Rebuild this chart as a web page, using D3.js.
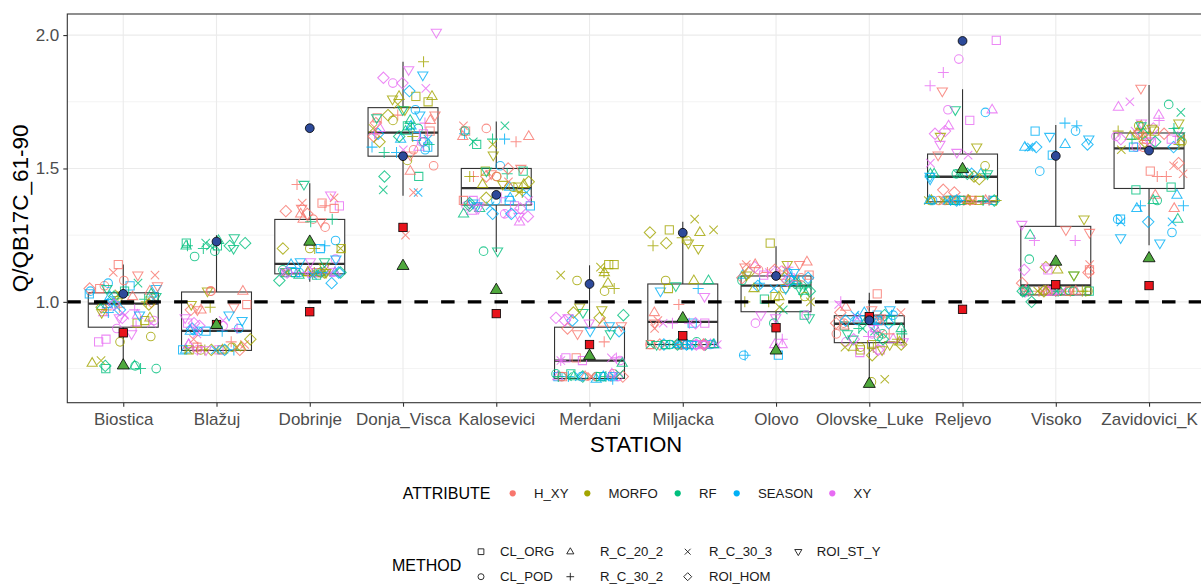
<!DOCTYPE html>
<html>
<head>
<meta charset="utf-8">
<script src="https://cdn.jsdelivr.net/npm/d3@7"></script>
<style>
  body { margin: 0; background: #ffffff; }
  svg { display: block; font-family: "Liberation Sans", Arial, sans-serif; }
</style>
</head>
<body>
<svg id="chart" width="1201" height="585"></svg>
<script>
// ---- data -------------------------------------------------------------
const stations = ["Biostica", "Blažuj", "Dobrinje", "Donja_Visca", "Kalosevici", "Merdani",
  "Miljacka", "Olovo", "Olovske_Luke", "Reljevo", "Visoko", "Zavidovici_K"];
const attributes = ["H_XY", "MORFO", "RF", "SEASON", "XY"];
const methods = ["CL_ORG", "CL_POD", "R_C_20_2", "R_C_30_2", "R_C_30_3", "ROI_HOM", "ROI_ST_Y"];
const yTicks = [1.0, 1.5, 2.0];

// Q/QB17C_61-90 ratios: one row per station, two runs of the 7 methods (method = index % 7)
const ratioHXY = [
  [1.14, 1.06, 1.04, 0.98, 1.10, 1.05, 1.10,  1.05, 1.08, 1.02, 0.97, 1.11, 1.00, 1.06],
  [0.83, 1.04, 1.04, 0.85, 0.84, 0.97, 0.98,  0.99, 1.04, 0.97, 0.83, 0.86, 0.82, 0.97],
  [1.37, 1.31, 1.33, 1.44, 1.37, 1.33, 1.30,  1.35, 1.28, 1.31, 1.36, 1.39, 1.34, 1.35],
  [1.69, 1.51, 1.49, 1.70, 1.25, 1.62, 1.55,  1.64, 1.57, 1.68, 1.63, 1.41, 1.67, 1.70],
  [1.64, 1.65, 1.62, 1.47, 1.66, 1.47, 1.50,  1.38, 1.47, 1.62, 1.60, 1.45, 1.50, 1.48],
  [0.79, 0.73, 0.92, 0.72, 0.72, 0.72, 0.91,  0.72, 0.72, 0.72, 0.85, 0.72, 0.90, 0.88],
  [0.84, 0.84, 0.96, 0.99, 0.93, 0.84, 0.92,  0.84, 0.84, 0.84, 0.84, 0.90, 0.84, 0.84],
  [1.10, 1.12, 1.15, 1.11, 1.14, 1.09, 1.13,  1.10, 1.09, 1.14, 1.08, 1.12, 1.12, 1.14],
  [1.03, 0.92, 0.98, 0.94, 0.88, 0.96, 0.97,  0.93, 0.88, 0.91, 0.88, 0.96, 0.92, 0.94],
  [1.38, 1.38, 1.38, 1.38, 1.38, 1.42, 1.79,  1.38, 1.38, 1.38, 1.38, 1.38, 1.41, 1.55],
  [1.12, 1.04, 1.04, 1.04, 1.14, 1.11, 1.27,  1.04, 1.04, 1.04, 1.04, 1.04, 1.07, 1.26],
  [1.49, 1.58, 1.35, 1.47, 1.51, 1.52, 1.80,  1.61, 1.62, 1.40, 1.47, 1.48, 1.63, 1.63]
];
const ratioMORFO = [
  [0.93, 0.87, 0.94, 1.02, 0.78, 0.98, 1.00,  0.92, 0.85, 0.77, 1.00, 1.03, 0.99, 0.96],
  [0.82, 0.83, 0.82, 0.98, 0.83, 0.82, 1.04,  0.82, 0.82, 0.83, 0.82, 0.82, 0.86, 0.99],
  [1.20, 1.20, 1.11, 1.20, 1.20, 1.11, 1.13,  1.11, 1.11, 1.11, 1.11, 1.11, 1.20, 1.11],
  [1.77, 1.53, 1.77, 1.90, 1.74, 1.60, 1.72,  1.75, 1.68, 1.77, 1.62, 1.65, 1.70, 1.76],
  [1.43, 1.47, 1.44, 1.41, 1.59, 1.45, 1.55,  1.49, 1.43, 1.44, 1.47, 1.41, 1.39, 1.44],
  [1.14, 1.04, 1.07, 1.11, 1.10, 0.96, 0.97,  1.14, 1.08, 1.11, 1.05, 1.13, 0.94, 0.98],
  [1.27, 1.23, 1.26, 1.24, 1.31, 1.22, 1.20,  1.05, 1.08, 1.08, 1.21, 1.27, 1.26, 1.22],
  [1.22, 1.05, 1.02, 1.00, 1.00, 1.11, 1.14,  1.02, 1.02, 1.05, 1.00, 0.98, 1.09, 1.10],
  [0.82, 0.70, 0.83, 0.83, 0.71, 0.80, 0.84,  0.84, 0.83, 0.85, 0.86, 0.83, 0.84, 0.82],
  [1.38, 1.51, 1.38, 1.38, 1.38, 1.46, 1.62,  1.38, 1.38, 1.38, 1.38, 1.38, 1.47, 1.58],
  [1.04, 1.04, 1.12, 1.04, 1.04, 1.13, 1.31,  1.04, 1.04, 1.04, 1.04, 1.04, 1.04, 1.10],
  [1.62, 1.60, 1.66, 1.64, 1.57, 1.60, 1.65,  1.64, 1.66, 1.62, 1.59, 1.61, 1.63, 1.67]
];
const ratioRF = [
  [0.75, 0.76, 1.03, 0.75, 1.07, 0.76, 1.02,  1.04, 0.75, 0.76, 1.01, 0.99, 1.02, 1.05],
  [1.21, 1.17, 1.23, 1.21, 1.22, 1.21, 1.24,  1.22, 1.19, 1.21, 1.20, 1.21, 1.22, 1.20],
  [1.11, 1.11, 1.11, 1.31, 1.11, 1.08, 1.44,  1.10, 1.12, 1.10, 1.30, 1.11, 1.11, 1.15],
  [1.47, 1.65, 1.68, 1.56, 1.42, 1.62, 1.72,  1.66, 1.60, 1.64, 1.59, 1.66, 1.47, 1.69],
  [1.59, 1.19, 1.35, 1.61, 1.66, 1.36, 1.19,  1.49, 1.64, 1.33, 1.48, 1.60, 1.37, 1.49],
  [0.73, 0.72, 0.77, 0.72, 0.72, 0.72, 0.96,  0.72, 0.73, 0.72, 0.72, 0.73, 0.95, 0.88],
  [0.84, 0.85, 1.08, 0.84, 0.84, 0.84, 0.84,  0.84, 0.84, 0.84, 0.84, 0.84, 0.84, 1.06],
  [0.95, 0.92, 1.08, 1.06, 0.97, 1.04, 1.04,  1.01, 1.08, 1.04, 1.07, 1.06, 1.07, 0.94],
  [0.91, 0.88, 0.90, 0.88, 0.90, 0.95, 0.86,  0.93, 0.87, 0.93, 0.90, 0.89, 0.86, 0.88],
  [1.38, 1.48, 1.48, 1.48, 1.48, 1.38, 1.72,  1.38, 1.38, 1.48, 1.38, 1.48, 1.48, 1.48],
  [1.04, 1.16, 1.25, 1.04, 1.04, 1.00, 1.10,  1.04, 1.04, 1.04, 1.04, 1.04, 1.04, 1.04],
  [1.42, 1.74, 1.31, 1.65, 1.71, 1.63, 1.64,  1.43, 1.38, 1.38, 1.61, 1.62, 1.60, 1.66]
];
const ratioSEASON = [
  [1.06, 1.04, 0.99, 1.00, 1.01, 0.97, 1.05,  1.03, 1.07, 1.02, 0.96, 0.98, 1.00, 0.95],
  [0.89, 0.89, 0.82, 0.82, 0.89, 0.90, 0.95,  0.82, 0.90, 0.89, 0.89, 0.82, 0.82, 0.93],
  [1.11, 1.23, 1.11, 1.21, 1.11, 1.07, 1.16,  1.20, 1.11, 1.14, 1.11, 1.10, 1.11, 1.15],
  [1.58, 1.72, 1.61, 1.56, 1.41, 1.63, 1.85,  1.62, 1.57, 1.66, 1.58, 1.61, 1.79, 1.70],
  [1.38, 1.51, 1.43, 1.63, 1.36, 1.33, 1.37,  1.36, 1.38, 1.39, 1.61, 1.41, 1.33, 1.36],
  [0.72, 0.72, 0.71, 0.72, 0.72, 0.93, 0.91,  0.72, 0.72, 0.72, 0.71, 0.72, 0.89, 0.89],
  [0.92, 0.84, 0.84, 1.05, 0.84, 0.84, 1.04,  0.84, 0.84, 0.84, 0.84, 0.84, 0.84, 0.84],
  [0.80, 0.80, 1.10, 0.80, 1.08, 1.06, 1.05,  1.08, 1.11, 1.09, 1.07, 1.05, 1.09, 1.11],
  [0.95, 0.93, 0.96, 0.95, 0.93, 0.92, 0.94,  0.93, 0.95, 0.94, 0.92, 0.95, 0.93, 0.97],
  [1.38, 1.71, 1.48, 1.38, 1.38, 1.48, 1.46,  1.38, 1.38, 1.38, 1.38, 1.38, 1.38, 1.47],
  [1.64, 1.49, 1.58, 1.66, 1.58, 1.59, 1.62,  1.55, 1.64, 1.59, 1.67, 1.58, 1.58, 1.61],
  [1.31, 1.26, 1.40, 1.36, 1.30, 1.58, 1.22,  1.58, 1.31, 1.35, 1.36, 1.30, 1.30, 1.24]
];
const ratioXY = [
  [0.86, 0.93, 0.96, 0.91, 0.95, 0.94, 0.88,  0.85, 0.90, 0.95, 0.97, 0.92, 0.99, 0.94],
  [0.82, 0.91, 0.84, 0.82, 0.88, 0.92, 0.94,  0.92, 0.82, 0.84, 0.90, 0.93, 0.91, 0.82],
  [1.36, 1.16, 1.11, 1.11, 1.11, 1.11, 1.40,  1.11, 1.11, 1.12, 1.11, 1.11, 1.11, 1.15],
  [1.62, 1.82, 1.58, 1.67, 1.80, 1.84, 2.01,  1.63, 1.60, 1.65, 1.63, 1.57, 1.82, 1.87],
  [1.38, 1.36, 1.34, 1.37, 1.33, 1.35, 1.32,  1.36, 1.33, 1.30, 1.39, 1.38, 1.32, 1.35],
  [0.79, 0.78, 0.72, 0.78, 0.79, 0.94, 0.94,  0.78, 0.72, 0.73, 0.79, 0.78, 0.93, 0.92],
  [0.92, 0.84, 0.84, 0.92, 0.84, 0.92, 1.02,  0.84, 0.84, 0.84, 0.92, 0.92, 0.84, 0.84],
  [1.09, 0.92, 0.84, 0.86, 1.12, 1.13, 0.94,  1.10, 0.95, 0.84, 1.13, 1.11, 1.08, 0.95],
  [0.81, 0.85, 0.90, 1.00, 0.99, 0.82, 0.85,  0.82, 0.88, 0.86, 0.87, 0.94, 0.86, 0.90],
  [1.98, 1.91, 1.72, 1.86, 1.52, 1.64, 1.59,  1.68, 1.72, 1.66, 1.81, 1.55, 1.63, 1.56],
  [1.12, 1.04, 1.04, 1.23, 1.04, 1.04, 1.29,  1.04, 1.04, 1.04, 1.23, 1.04, 1.12, 1.13],
  [1.60, 1.58, 1.73, 1.68, 1.75, 1.65, 1.67,  1.61, 1.62, 1.70, 1.62, 1.64, 1.61, 1.60]
];

// box summaries per station
const boxQ1     = [0.905, 0.818, 1.105, 1.546, 1.363, 0.713, 0.840, 0.963, 0.847, 1.375, 1.026, 1.425];
const boxMedian = [0.993, 0.891, 1.142, 1.634, 1.426, 0.780, 0.925, 1.061, 0.918, 1.469, 1.062, 1.575];
const boxQ3     = [1.034, 1.037, 1.309, 1.728, 1.500, 0.905, 1.067, 1.097, 0.948, 1.554, 1.283, 1.633];
const whiskerLo = [0.760, 0.815, 1.075, 1.398, 1.187, 0.713, 0.840, 0.809, 0.697, 1.375, 1.020, 1.212];
const whiskerHi = [1.140, 1.250, 1.445, 1.900, 1.676, 1.137, 1.300, 1.208, 1.034, 1.797, 1.663, 1.813];

// reference ratios per station
const refRed   = [0.884, 0.915, 0.963, 1.279, 0.956, 0.840, 0.873, 0.903, 0.944, 0.972, 1.064, 1.061];
const refGreen = [0.763, 0.915, 1.227, 1.136, 1.046, 0.799, 0.940, 0.819, 0.694, 1.499, 1.152, 1.165];
const refBlue  = [1.030, 1.226, 1.651, 1.546, 1.401, 1.067, 1.259, 1.097, 0.931, 1.978, 1.547, 1.567];

// ---- setup ------------------------------------------------------------
const attrColors = ["#F8766D", "#A3A500", "#00BF7D", "#00B0F6", "#E76BF3"];
const attrTables = [ratioHXY, ratioMORFO, ratioRF, ratioSEASON, ratioXY];

const svg = d3.select("#chart");
const panel = { left: 67.3, right: 1205, top: 14, bottom: 402.7 };

const x = d3.scalePoint().domain(stations).range([panel.left, panel.right]).padding(0.6);
const y = d3.scaleLinear().domain([0.622, 2.079]).range([panel.bottom, panel.top]);
const step = x.step();

svg.append("defs").append("clipPath").attr("id", "panel-clip")
  .append("rect").attr("x", panel.left).attr("y", panel.top)
  .attr("width", panel.right - panel.left).attr("height", panel.bottom - panel.top);

// open-shape paths used for methods
function shapePath(i) {
  switch (i) {
    case 0: return "M-4.1,-4.1H4.1V4.1H-4.1Z";                               // square
    case 1: return "M4.3,0A4.3,4.3 0 1,1 -4.3,0A4.3,4.3 0 1,1 4.3,0Z";      // circle
    case 2: return "M0,-5.6L5.1,3.1L-5.1,3.1Z";                              // triangle
    case 3: return "M-5.5,0H5.5M0,-5.5V5.5";                                 // plus
    case 4: return "M-4.2,-4.2L4.2,4.2M-4.2,4.2L4.2,-4.2";                   // cross
    case 5: return "M0,-5.7L5.7,0L0,5.7L-5.7,0Z";                            // diamond
    case 6: return "M0,5.6L5.1,-3.1L-5.1,-3.1Z";                             // triangle down
  }
}

const g = svg.append("g");

// grid
const gridG = g.append("g");
[0.75, 1.25, 1.75].forEach(v => {
  gridG.append("line").attr("x1", panel.left).attr("x2", panel.right)
    .attr("y1", y(v)).attr("y2", y(v)).attr("stroke", "#ebebeb").attr("stroke-width", 0.6);
});
yTicks.forEach(v => {
  gridG.append("line").attr("x1", panel.left).attr("x2", panel.right)
    .attr("y1", y(v)).attr("y2", y(v)).attr("stroke", "#ebebeb").attr("stroke-width", 1.1);
});
stations.forEach(s => {
  gridG.append("line").attr("x1", x(s)).attr("x2", x(s))
    .attr("y1", panel.top).attr("y2", panel.bottom).attr("stroke", "#ebebeb").attr("stroke-width", 1.1);
});

// boxplots
const boxW = step * 0.75;
const boxG = g.append("g").attr("stroke", "#333333").attr("fill", "none");
stations.forEach((s, i) => {
  const cx = x(s);
  boxG.append("line").attr("x1", cx).attr("x2", cx)
    .attr("y1", y(boxQ3[i])).attr("y2", y(whiskerHi[i])).attr("stroke-width", 1.1);
  boxG.append("line").attr("x1", cx).attr("x2", cx)
    .attr("y1", y(boxQ1[i])).attr("y2", y(whiskerLo[i])).attr("stroke-width", 1.1);
  boxG.append("rect").attr("x", cx - boxW / 2).attr("width", boxW)
    .attr("y", y(boxQ3[i])).attr("height", y(boxQ1[i]) - y(boxQ3[i]))
    .attr("fill", "#ffffff").attr("stroke-width", 1.1);
  boxG.append("line").attr("x1", cx - boxW / 2).attr("x2", cx + boxW / 2)
    .attr("y1", y(boxMedian[i])).attr("y2", y(boxMedian[i])).attr("stroke-width", 2.3);
});

// jittered points
const rand = d3.randomUniform.source(d3.randomLcg(0.4217))(-0.37, 0.37);
const points = [];
stations.forEach((s, si) => {
  const n = attrTables[0][si].length;
  for (let k = 0; k < n; k++) {
    attributes.forEach((a, ai) => {
      points.push({ station: s, attr: ai, method: k % methods.length,
        value: attrTables[ai][si][k], dx: rand() * step });
    });
  }
});
g.append("g").attr("clip-path", "url(#panel-clip)")
  .selectAll("path").data(points).join("path")
  .attr("transform", d => `translate(${x(d.station) + d.dx},${y(d.value)})`)
  .attr("d", d => shapePath(d.method))
  .attr("fill", "none")
  .attr("stroke", d => attrColors[d.attr])
  .attr("stroke-opacity", 0.8)
  .attr("stroke-width", 1.05);

// reference line at 1.0
g.append("line").attr("x1", panel.left).attr("x2", panel.right)
  .attr("y1", y(1)).attr("y2", y(1))
  .attr("stroke", "#000").attr("stroke-width", 3.4).attr("stroke-dasharray", "13.5,13.2");

// reference markers
const refG = g.append("g").attr("stroke", "#000").attr("stroke-width", 0.8);
stations.forEach((s, i) => {
  const cx = x(s);
  refG.append("rect").attr("x", cx - 4.2).attr("y", y(refRed[i]) - 4.2)
    .attr("width", 8.4).attr("height", 8.4).attr("fill", "#E8141C");
  refG.append("path").attr("transform", `translate(${cx},${y(refGreen[i])})`)
    .attr("d", "M0,-6.4L6,3.9L-6,3.9Z").attr("fill", "#4FA83D");
  refG.append("circle").attr("cx", cx).attr("cy", y(refBlue[i])).attr("r", 4.4)
    .attr("fill", "#2D4A9A");
});

// panel border
g.append("rect").attr("x", panel.left).attr("y", panel.top)
  .attr("width", panel.right - panel.left).attr("height", panel.bottom - panel.top)
  .attr("fill", "none").attr("stroke", "#333333").attr("stroke-width", 1.1);

// axes
const yAxis = g.append("g").attr("transform", `translate(${panel.left},0)`)
  .call(d3.axisLeft(y).tickValues(yTicks).tickFormat(d3.format(".1f")).tickSize(4).tickPadding(4));
const xAxis = g.append("g").attr("transform", `translate(0,${panel.bottom})`)
  .call(d3.axisBottom(x).tickSize(4).tickPadding(6));
[yAxis, xAxis].forEach(ax => {
  ax.select(".domain").remove();
  ax.selectAll(".tick line").attr("stroke", "#333333").attr("stroke-width", 1.1);
  ax.selectAll(".tick text").attr("fill", "#4d4d4d").attr("font-size", 17)
    .attr("font-family", "Liberation Sans, Arial, sans-serif");
});

// axis titles
svg.append("text").attr("transform", `translate(28,${(panel.top + panel.bottom) / 2}) rotate(-90)`)
  .attr("text-anchor", "middle").attr("font-size", 22.5).attr("fill", "#000")
  .text("Q/QB17C_61-90");
svg.append("text").attr("x", (panel.left + panel.right) / 2).attr("y", 452)
  .attr("text-anchor", "middle").attr("font-size", 22).attr("fill", "#000")
  .text("STATION");

// legend: attribute colours
const legA = svg.append("g");
legA.append("text").attr("x", 402.7).attr("y", 499).attr("font-size", 16).attr("fill", "#000").text("ATTRIBUTE");
const attrKeyX = [512.7, 587.3, 677.7, 736.7, 832.3];
attributes.forEach((a, i) => {
  legA.append("circle").attr("cx", attrKeyX[i]).attr("cy", 493.3).attr("r", 3.1).attr("fill", attrColors[i]);
  legA.append("text").attr("x", attrKeyX[i] + 21.3).attr("y", 498).attr("font-size", 13.2)
    .attr("fill", "#1a1a1a").text(a);
});

// legend: method shapes (filled column by column)
const legM = svg.append("g");
legM.append("text").attr("x", 392).attr("y", 571).attr("font-size", 16).attr("fill", "#000").text("METHOD");
const colKeyX = [481, 570.3, 687.7, 798.3];
const colLabelX = [500, 600, 709, 816.7];
const rowY = [551.7, 576.7];
methods.forEach((m, i) => {
  const col = Math.floor(i / 2), row = i % 2;
  legM.append("path").attr("transform", `translate(${colKeyX[col]},${rowY[row]}) scale(0.7)`)
    .attr("d", shapePath(i)).attr("fill", "none").attr("stroke", "#1a1a1a").attr("stroke-width", 1.3);
  legM.append("text").attr("x", colLabelX[col]).attr("y", rowY[row] + 4.7).attr("font-size", 13.2)
    .attr("fill", "#1a1a1a").text(m);
});
</script>
</body>
</html>
